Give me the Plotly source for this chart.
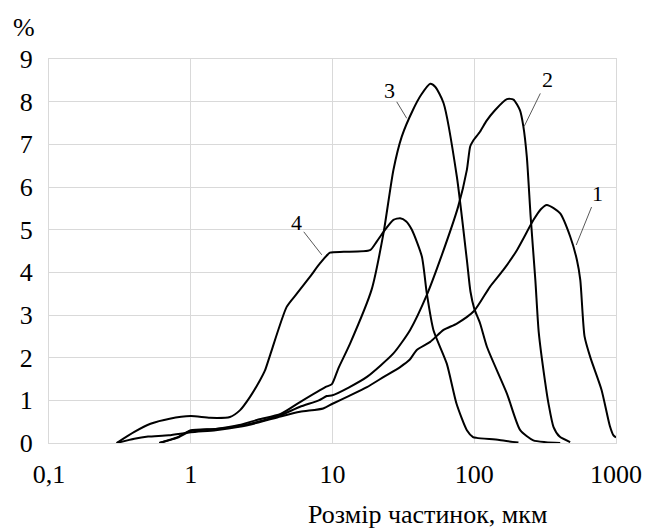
import math
import plotly.graph_objects as go

# ---- data (particle size, um ; percent) ----
x1 = [0.3, 0.4, 0.5, 0.7, 1, 1.5, 2.2, 3, 4.3, 5.9, 8.6, 10, 13, 17.5, 23, 30, 35, 39.3, 48.9, 60.7,
      75.4, 100, 129, 160, 200, 262, 295, 325, 365, 404, 475, 530, 560, 600, 660, 790, 905, 960, 1000]
y1 = [0, 0.1, 0.15, 0.18, 0.25, 0.3, 0.38, 0.48, 0.62, 0.73, 0.81, 0.92, 1.1, 1.31, 1.55, 1.78, 1.95, 2.18, 2.37, 2.65,
      2.8, 3.1, 3.66, 4.05, 4.52, 5.23, 5.48, 5.58, 5.5, 5.38, 4.84, 4.29, 3.82, 2.5, 2.0, 1.25, 0.4, 0.18, 0.13]

x2 = [0.6, 0.8, 1, 1.5, 2.2, 3, 4.3, 5.9, 8, 9.1, 10, 13, 17.5, 26.9, 35.3, 46.3, 57.4, 77, 88.7, 93.6,
      98, 110, 122, 140, 170, 189, 210, 222, 235, 250, 270, 285, 315, 335, 362, 400, 475]
y2 = [0, 0.13, 0.3, 0.33, 0.4, 0.5, 0.65, 0.85, 1.0, 1.1, 1.12, 1.3, 1.55, 2.1, 2.65, 3.47, 4.29, 5.54, 6.4, 6.95,
      7.08, 7.3, 7.55, 7.8, 8.06, 8.05, 7.8, 7.42, 6.7, 5.3, 3.8, 2.6, 1.47, 0.9, 0.38, 0.15, 0.02]

x3 = [0.6, 0.8, 1, 1.5, 2.2, 3, 4.3, 5.9, 8.9, 9.9, 11, 13.3, 18.9, 22.9, 26.9, 30.8, 37, 42, 48.9, 53,
      60.7, 75.4, 88.7, 94, 100, 110, 123, 170, 211, 261, 320, 404]
y3 = [0, 0.12, 0.28, 0.33, 0.42, 0.55, 0.68, 0.96, 1.31, 1.38, 1.75, 2.33, 3.6, 4.92, 6.4, 7.18, 7.81, 8.15, 8.42, 8.35,
      7.97, 6.24, 4.29, 3.55, 3.15, 2.8, 2.25, 1.16, 0.3, 0.06, 0.02, 0]

x4 = [0.3, 0.4, 0.52, 0.71, 1, 1.37, 1.89, 2.23, 2.62, 3.08, 3.34, 3.63, 4.75, 5.6, 6.95, 8.2, 9.6, 12, 18.4, 20.5,
      22.9, 26.9, 30, 33, 36.3, 42.7, 46.3, 51.5, 64, 75, 88.7, 98, 104, 150, 205]
y4 = [0, 0.26, 0.45, 0.57, 0.63, 0.59, 0.61, 0.77, 1.08, 1.47, 1.7, 2.06, 3.19, 3.5, 3.9, 4.22, 4.46, 4.48, 4.52, 4.72,
      4.95, 5.23, 5.27, 5.2, 5.0, 4.37, 3.5, 2.65, 1.86, 0.92, 0.3, 0.14, 0.12, 0.07, 0.01]

curves = [(x1, y1), (x2, y2), (x3, y3), (x4, y4)]

# curve labels: text, point on curve (x, y), text offset in px
label_text = ["1", "2", "3", "4"]
label_x = [524, 225, 33.4, 8.4]
label_y = [4.64, 7.42, 7.61, 4.41]
label_dx = [21, 23, -17, -25]
label_dy = [-52, -47, -28, -32]

xtick_vals = [0.1, 1, 10, 100, 1000]
xtick_text = ["0,1", "1", "10", "100", "1000"]
ytick_vals = list(range(0, 10))

x_title = "Розмір частинок, мкм"
y_title = "%"

FONT = "Liberation Serif, Times New Roman, serif"
GRID = "#d9d9d9"

fig = go.Figure()
for xs, ys in curves:
    fig.add_trace(go.Scatter(x=xs, y=ys, mode="lines",
                             line=dict(color="black", width=2, shape="spline", smoothing=0.6),
                             showlegend=False, hoverinfo="skip"))

for t, lx, ly, dx, dy in zip(label_text, label_x, label_y, label_dx, label_dy):
    fig.add_annotation(x=math.log10(lx), y=ly, xref="x", yref="y", text=t,
                       showarrow=True, arrowhead=0, arrowwidth=1, arrowcolor="#595959",
                       ax=dx, ay=dy, standoff=0, startstandoff=0,
                       font=dict(family=FONT, size=22, color="black"))

fig.add_annotation(x=0.667, y=-0.185, xref="paper", yref="paper", text=x_title, showarrow=False,
                   xanchor="center", yanchor="middle", font=dict(family=FONT, size=26, color="black"))
fig.add_annotation(x=-0.044, y=1.083, xref="paper", yref="paper", text=y_title, showarrow=False,
                   xanchor="center", yanchor="middle", font=dict(family=FONT, size=26, color="black"))

fig.update_xaxes(type="log", range=[-1, 3], tickvals=xtick_vals, ticktext=xtick_text,
                 showgrid=True, gridcolor=GRID, gridwidth=1, zeroline=False,
                 showline=True, linecolor=GRID, linewidth=1, mirror=True,
                 ticks="", ticklabelstandoff=8, automargin=False,
                 tickfont=dict(family=FONT, size=26, color="black"))
fig.update_yaxes(range=[0, 9], tickvals=ytick_vals,
                 showgrid=True, gridcolor=GRID, gridwidth=1, zeroline=False,
                 showline=True, linecolor=GRID, linewidth=1, mirror=True,
                 ticks="", ticklabelstandoff=10, automargin=False,
                 tickfont=dict(family=FONT, size=26, color="black"))

fig.update_layout(width=648, height=530, margin=dict(l=49, r=32, t=59, b=87),
                  paper_bgcolor="white", plot_bgcolor="white", showlegend=False)

fig.write_html("out.html", config={"displayModeBar": False},
               post_script="document.body.style.margin='0';document.body.style.overflow='hidden';")
